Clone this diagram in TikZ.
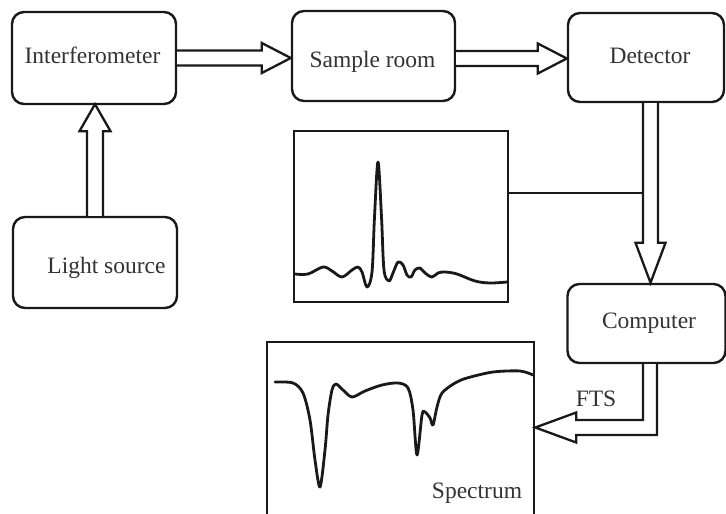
\documentclass[tikz,border=0pt]{standalone}
\usepackage{fontspec}
\setmainfont{Liberation Serif}
\usetikzlibrary{calc}
\definecolor{ink}{gray}{0.1}
\definecolor{txt}{gray}{0.2}
\begin{document}
\begin{tikzpicture}[x=1pt,y=-1pt,
  box/.style={draw=ink, line width=2.4pt, rounded corners=12pt, inner sep=0pt},
  frame/.style={draw=ink, line width=2.5pt, inner sep=0pt},
  lbl/.style={font=\fontsize{23.5}{28}\selectfont, text=txt, inner sep=0pt},
  fat/.style={draw=ink, line width=2.3pt, fill=white, line join=miter},
  trace/.style={draw=ink, line width=2.8pt, line cap=round, line join=round},
  wire/.style={draw=ink, line width=2.3pt}]
\useasboundingbox (0,0) rectangle (726,514);

% blocks
\node[box, minimum width=164pt, minimum height=92pt] (interf) at (94,58) {};
\node[box, minimum width=163pt, minimum height=90pt] (sample) at (373.5,56) {};
\node[box, minimum width=156pt, minimum height=89pt] (det) at (646,57.5) {};
\node[box, minimum width=164pt, minimum height=91pt] (light) at (95,262.5) {};
\node[box, minimum width=158pt, minimum height=79pt] (comp) at (646.5,323.5) {};
\node[frame, minimum width=214pt, minimum height=171pt] (igram) at (401,216.5) {};
\node[frame, minimum width=267pt, minimum height=176pt] (spec) at (400.5,430) {};

% labels
\node[lbl] (tinterf) at (92.5,55) {Interferometer};
\node[lbl] (tsample) at (372.5,62) {Sample room};
\node[lbl] (tdet) at (650,56) {Detector};
\node[lbl] (tlight) at (106.5,268) {Light source};
\node[lbl] (tcomp) at (649,323) {Computer};
\node[lbl] (tfts) at (596,399) {FTS};
\node[lbl] (tspec) at (477,493) {Spectrum};

% hollow arrow: interferometer -> sample room
\coordinate (a1) at (interf.east);
\coordinate (a1t) at (sample.west |- a1);
\draw[fat] ($(a1)+(0,-7.5)$) -- ($(a1t)+(-29,-7.5)$) -- ($(a1t)+(-29,-15)$)
  -- (a1t) -- ($(a1t)+(-29,15)$) -- ($(a1t)+(-29,7.5)$) -- ($(a1)+(0,7.5)$);

% hollow arrow: sample room -> detector
\coordinate (a2) at ($(sample.east)+(0,2.5)$);
\coordinate (a2t) at (det.west |- a2);
\draw[fat] ($(a2)+(0,-7.5)$) -- ($(a2t)+(-29,-7.5)$) -- ($(a2t)+(-29,-15)$)
  -- (a2t) -- ($(a2t)+(-29,15)$) -- ($(a2t)+(-29,7.5)$) -- ($(a2)+(0,7.5)$);

% hollow arrow: light source -> interferometer
\coordinate (a3) at (light.north);
\coordinate (a3t) at ($(a3 |- interf.south)+(0,-1)$);
\draw[fat] ($(a3)+(-8,0)$) -- ($(a3t)+(-8,27)$) -- ($(a3t)+(-15.5,27)$)
  -- (a3t) -- ($(a3t)+(15.5,27)$) -- ($(a3t)+(8,27)$) -- ($(a3)+(8,0)$);

% hollow arrow: detector -> computer
\coordinate (a4) at ($(det.south)+(4.5,0)$);
\coordinate (a4t) at (a4 |- comp.north);
\draw[fat] ($(a4)+(-7.5,0)$) -- ($(a4t)+(-7.5,-40)$) -- ($(a4t)+(-15,-40)$)
  -- (a4t) -- ($(a4t)+(15,-40)$) -- ($(a4t)+(7.5,-40)$) -- ($(a4)+(7.5,0)$);

% tap from the detector output to the interferogram
\coordinate (tapL) at ($(igram.east)+(0,-23.5)$);
\coordinate (tapR) at ($(a4)+(-7.5,0)$);
\draw[wire] (tapL) -- (tapL -| tapR);

% hollow elbow arrow: computer -> spectrum (FTS)
\coordinate (a5) at (comp.south);
\coordinate (a5t) at (spec.east |- 0,427.5);
\draw[fat] ($(a5)+(-3.5,0)$) -- ($(a5 |- a5t)+(-3.5,-7.5)$)
  -- ($(a5t)+(41,-7.5)$) -- ($(a5t)+(41,-15)$) -- (a5t)
  -- ($(a5t)+(41,15)$) -- ($(a5t)+(41,7.5)$)
  -- ($(a5 |- a5t)+(10.5,7.5)$) -- ($(a5)+(10.5,0)$);

% interferogram trace
\draw[trace] plot[smooth, tension=0.55] coordinates {
  (295,274) (308,274) (323,267) (332,271) (342,277) (352,270) (358,267)
  (362,272) (367,287) (372,272) (374.5,217) (378,162) (381.5,217) (384,270)
  (389,281) (393,273) (398,262) (403,265) (407,275) (411,277) (415,270)
  (420,268) (425,273) (432,277) (438,273) (445,272) (457,274) (475,281)
  (490,283) (507,282)};

% absorption spectrum trace
\draw[trace] plot[smooth, tension=0.5] coordinates {
  (275,382) (293,383) (303,393) (310,420) (315,460) (320,487) (325,450)
  (328,415) (332,390) (336,384) (343,390) (352,397) (365,391) (382,385)
  (398,383) (408,388) (413,410) (417,455) (422,415) (425,412) (430,418)
  (433,425) (437,407) (442,393) (455,383) (467,378) (493,372) (520,371)
  (533,375)};
\end{tikzpicture}
\end{document}
